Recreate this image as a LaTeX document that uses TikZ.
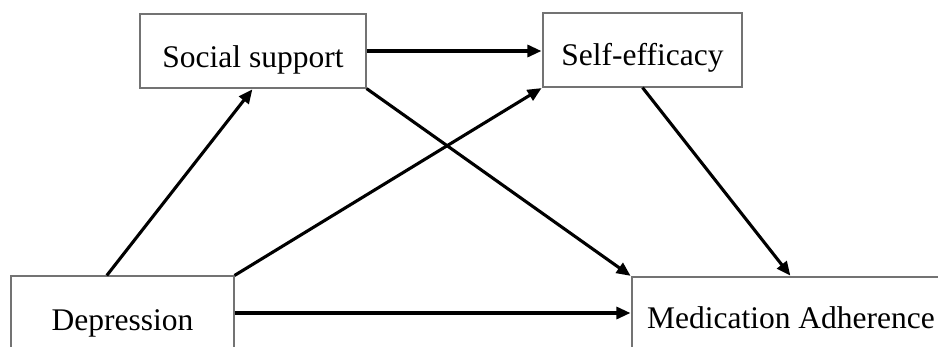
\documentclass[tikz,border=0pt]{standalone}
\usepackage{fontspec}
\setmainfont{Liberation Serif}
\usetikzlibrary{arrows.meta,calc}
\begin{document}
\begin{tikzpicture}[x=1pt,y=-1pt,
  box/.style={draw=black!55,line width=1.1pt,inner sep=0pt,text depth=0pt,font=\fontsize{31.5}{36}\selectfont},
  arr/.style={line width=3.1pt,-{Triangle[length=14pt,width=12pt]},shorten >=1pt}]
\useasboundingbox (0,0) rectangle (938,346);
\fill[white] (0,0) rectangle (938,346);
\node[box,minimum width=226pt,minimum height=74pt,text height=32pt] (ss) at (253,51) {Social support};
\node[box,minimum width=199pt,minimum height=74pt,text height=30pt] (se) at (642.5,50) {Self-efficacy};
\node[box,minimum width=223pt,minimum height=84pt,text height=24pt] (dep) at (122.5,318) {Depression};
\node[box,minimum width=318pt,minimum height=83pt,text height=20pt] (med) at (791,318.5) {Medication Adherence};
\draw[arr] ($(dep.north west)!0.43!(dep.north east)$) -- (ss.south);
\draw[arr] (dep.north east) -- (se.south west);
\draw[arr] ([yshift=5pt]dep.east) -- ([yshift=5pt]dep.east -| med.west);
\draw[arr] (ss.east) -- (ss.east -| se.west);
\draw[arr] (ss.south east) -- (med.north west);
\draw[arr] (se.south) -- (med.north);
\end{tikzpicture}
\end{document}
